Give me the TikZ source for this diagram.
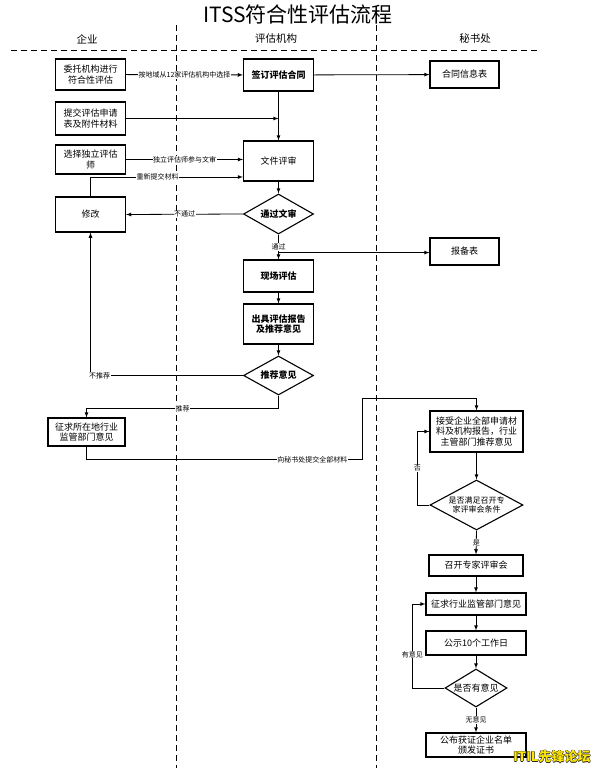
\documentclass[tikz,border=0pt]{standalone}
\usepackage{fontspec}
\newfontfamily\cjk{Noto Sans CJK SC}
\usepackage{tikz}
\usetikzlibrary{arrows,shapes.geometric,calc}

\begin{document}
\begin{tikzpicture}[x=1pt,y=-1pt,
  box/.style={draw,line width=1.1pt,align=center,inner sep=1pt,
    minimum width=70pt,font=\cjk\fontsize{9}{10.5}\selectfont},
  decide/.style={draw,line width=1.1pt,diamond,align=center,inner sep=0pt,
    aspect=1.8,font=\cjk\fontsize{9}{10.5}\selectfont},
  lbl/.style={fill=white,inner sep=0.5pt,font=\cjk\fontsize{7}{7}\selectfont},
  lane/.style={dashed,dash pattern=on 6pt off 4pt,line width=0.9pt},
  flow/.style={-latex,line width=0.8pt}]
  \useasboundingbox (0,0) rectangle (595,768);
  % Title and lanes
  \node (title) at (298,14) {\cjk\fontsize{21}{21}\selectfont ITSS符合性评估流程};
  \node[font=\cjk\fontsize{10.5}{10.5}\selectfont] (laneA) at (87,39) {企业};
  \node[font=\cjk\fontsize{10.5}{10.5}\selectfont] (laneB) at (276,39) {评估机构};
  \node[font=\cjk\fontsize{10.5}{10.5}\selectfont] (laneC) at (475,39) {秘书处};
  \draw[lane] (11,50) -- (538,50);
  \draw[lane] (176,25) -- (176,768);
  \draw[lane] (376,25) -- (376,768);
  % Enterprise
  \node[box,minimum height=31pt] (entrust) at (90.5,74.5) {委托机构进行\\符合性评估};
  \node[box,minimum height=33pt] (apply) at (90.5,118.5) {提交评估申请\\表及附件材料};
  \node[box,minimum height=29pt] (assessor) at (90.5,159.5) {选择独立评估\\师};
  \node[box,minimum height=35pt] (revise) at (90.5,214.5) {修改};
  \node[box,minimum width=77pt,minimum height=28pt] (consult) at (86.5,432) {征求所在地行业\\监管部门意见};
  % Evaluation body
  \node[box,minimum height=32pt] (contract) at (278.5,75) {\textbf{签订评估合同}};
  \node[box,minimum height=40pt] (docrev) at (278.5,161) {文件评审};
  \node[decide,minimum width=70pt,minimum height=40pt] (pass) at (278.5,214) {\textbf{通过文审}};
  \node[box,minimum height=32pt] (onsite) at (278.5,276) {\textbf{现场评估}};
  \node[box,minimum height=40pt] (report) at (278.5,324) {\textbf{出具评估报告}\\\textbf{及推荐意见}};
  \node[decide,minimum width=70pt,minimum height=39pt] (recom) at (278.5,375.5) {\textbf{推荐意见}};
  % Secretariat
  \node[box,minimum width=69pt,minimum height=27pt] (info) at (464.5,74.5) {合同信息表};
  \node[box,minimum width=69pt,minimum height=27pt] (filing) at (464.5,251.5) {报备表};
  \node[box,minimum width=93pt,minimum height=41pt] (receive) at (476.5,431.5) {接受企业全部申请材\\料及机构报告，行业\\主管部门推荐意见};
  \node[decide,minimum width=93pt,minimum height=50pt,font=\cjk\fontsize{8}{9.5}\selectfont] (meet) at (476.5,505) {是否满足召开专\\家评审会条件};
  \node[box,minimum width=94pt,minimum height=21pt] (panel) at (476,565.5) {召开专家评审会};
  \node[box,minimum width=100pt,minimum height=22pt] (industry) at (476,604) {征求行业监管部门意见};
  \node[box,minimum width=100pt,minimum height=24pt] (publicity) at (476,643) {公示10个工作日};
  \node[decide,minimum width=62pt,minimum height=38pt] (objection) at (476,688) {是否有意见};
  \node[box,minimum width=100pt,minimum height=24pt] (certify) at (476,745) {公布获证企业名单\\颁发证书};
  % Connectors
  \draw[flow] (entrust) -- node[lbl]{按地域从12家评估机构中选择} (contract);
  \draw[flow] (contract) -- (info);
  \draw[flow] (contract) -- (docrev);
  \draw[flow] (apply.east) -- (apply.east -| contract.south);
  \draw[flow] (assessor.east) -- node[lbl]{独立评估师参与文审} (assessor.east -| docrev.west);
  \draw[flow] (revise.north) |- node[lbl,pos=0.72]{重新提交材料} ($(docrev.west)+(0,16)$);
  \draw[flow] (docrev) -- (pass);
  \draw[flow] (pass.west) -- node[lbl]{不通过} (revise.east);
  \draw[flow] (pass.south) -- node[lbl]{通过} (onsite.north);
  \coordinate (fork) at ($(pass.south)+(0,18)$);
  \draw[flow] (fork) -- (fork -| filing.west);
  \draw[flow] (onsite) -- (report);
  \draw[flow] (report) -- (recom);
  \draw[flow] (recom.west) -| node[lbl,pos=0.47]{不推荐} (revise.south);
  \draw[flow] (recom.south) -- ++(0,13) -| node[lbl,pos=0.25]{推荐} (consult.north);
  \coordinate (turn) at (362,398);
  \draw[flow] (consult.south) -- ++(0,13) -| node[lbl,pos=0.41]{向秘书处提交全部材料} (turn) -| (receive.north);
  \draw[flow] (receive) -- (meet);
  \draw[flow] (meet.west) -- ++(-12,0) |- node[lbl,pos=0.25]{否} (receive.west);
  \draw[flow] (meet.south) -- node[lbl]{是} (panel.north);
  \draw[flow] (panel) -- (industry);
  \draw[flow] (industry) -- (publicity);
  \draw[flow] (publicity) -- (objection);
  \draw[flow] (objection.west) -- ++(-32,0) |- node[lbl,pos=0.2]{有意见} (industry.west);
  \draw[flow] (objection.south) -- node[lbl]{无意见} (certify.north);
  % Watermark
  \foreach \dx/\dy in {0.6/0,-0.6/0,0/0.6,0/-0.6}
    \node[font=\cjk\fontsize{13}{13}\selectfont\bfseries,text=black!85] at (552+\dx,757+\dy) {ITIL先锋论坛};
  \node[font=\cjk\fontsize{13}{13}\selectfont\bfseries,text=yellow!90!orange] (mark) at (552,757) {ITIL先锋论坛};
\end{tikzpicture}
\end{document}
